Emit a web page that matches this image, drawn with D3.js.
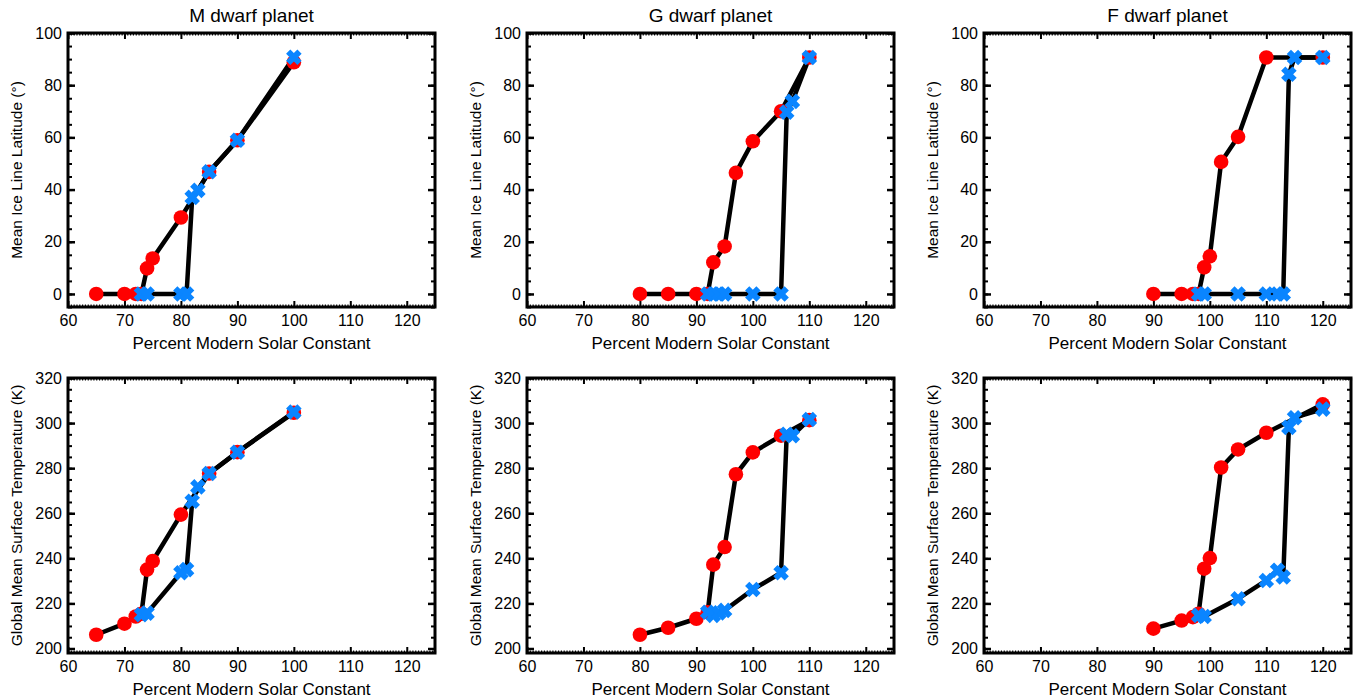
<!DOCTYPE html>
<html>
<head>
<meta charset="utf-8">
<script src="https://cdn.jsdelivr.net/npm/d3@7"></script>
<style>
  body { margin: 0; background: #fff; }
  text { font-family: "Liberation Sans", Arial, Helvetica, sans-serif; fill: #000; }
</style>
</head>
<body>
<svg id="chart" width="1357" height="700"></svg>
<script>
// solar constant (% modern) for the warming (red) and cooling (blue) runs
var mRedX = [65, 70, 72, 73, 74, 75, 80, 85, 90, 100],
    mRedIce = [0, 0, 0, 0, 9.8, 13.6, 29.3, 46.8, 58.9, 88.8],
    mRedTemp = [206.1, 211.0, 214.2, 215.4, 235.0, 238.8, 259.4, 277.6, 287.1, 304.6],
    mBlueX = [73, 74, 80, 81, 82, 83, 85, 90, 100],
    mBlueIce = [0, 0, 0, 0, 37.0, 39.7, 46.8, 58.9, 90.7],
    mBlueTemp = [215.0, 215.7, 233.6, 235.0, 265.3, 271.7, 277.6, 287.1, 304.9];

var gRedX = [80, 85, 90, 92, 93, 95, 97, 100, 105, 110],
    gRedIce = [0, 0, 0, 0, 12.1, 18.2, 46.4, 58.5, 70.0, 90.6],
    gRedTemp = [206.1, 209.2, 213.2, 216.1, 237.2, 245.0, 277.3, 287.0, 294.4, 301.3],
    gBlueX = [92, 93, 94, 95, 100, 105, 106, 107, 110],
    gBlueIce = [0, 0, 0, 0, 0, 0, 69.6, 73.8, 90.6],
    gBlueTemp = [216.1, 214.7, 215.8, 216.9, 226.2, 233.6, 295.0, 294.4, 301.6];

var fRedX = [90, 95, 97, 98, 99, 100, 102, 105, 110, 120],
    fRedIce = [0, 0, 0, 0, 10.2, 14.4, 50.6, 60.2, 90.6, 90.6],
    fRedTemp = [208.8, 212.4, 213.9, 215.4, 235.4, 240.1, 280.3, 288.3, 295.7, 308.3],
    fBlueX = [98, 99, 105, 110, 112, 113, 114, 115, 120],
    fBlueIce = [0, 0, 0, 0, 0, 0, 84.2, 90.6, 90.6],
    fBlueTemp = [214.7, 214.2, 222.1, 230.2, 234.7, 231.7, 298.1, 302.4, 306.2];

var titles = ['M dwarf planet', 'G dwarf planet', 'F dwarf planet'],
    xTicks = [60, 70, 80, 90, 100, 110, 120],
    iceTicks = [0, 20, 40, 60, 80, 100],
    tempTicks = [200, 220, 240, 260, 280, 300, 320],
    xLabel = 'Percent Modern Solar Constant',
    iceLabel = 'Mean Ice Line Latitude (\u00B0)',
    tempLabel = 'Global Mean Surface Temperature (K)';

var RED = '#ff0000',
    BLUE = '#0a85ff';

var svg = d3.select('#chart'),
    lefts = [68, 527, 984],
    panelW = 367,
    rows = [
        {top: 33, h: 274, dom: [-5, 100], ticks: iceTicks, minor: d3.range(-5, 101, 5), label: iceLabel, key: 'ice'},
        {top: 378, h: 275, dom: [198, 320], ticks: tempTicks, minor: d3.range(200, 321, 5), label: tempLabel, key: 'temp'}
    ],
    panels = [
        {redX: mRedX, blueX: mBlueX, ice: [mRedIce, mBlueIce], temp: [mRedTemp, mBlueTemp]},
        {redX: gRedX, blueX: gBlueX, ice: [gRedIce, gBlueIce], temp: [gRedTemp, gBlueTemp]},
        {redX: fRedX, blueX: fBlueX, ice: [fRedIce, fBlueIce], temp: [fRedTemp, fBlueTemp]}
    ];

// filled X marker
var crossPath = (function () {
    var a = 8, w = 3, pts = [], k;
    // build a rotated plus with arm half-width w and reach a
    var base = [[-w, -a], [w, -a], [w, -w], [a, -w], [a, w], [w, w], [w, a], [-w, a], [-w, w], [-a, w], [-a, -w], [-w, -w]];
    for (k = 0; k < base.length; k += 1) {
        var c = Math.SQRT1_2, p = base[k];
        pts.push([(p[0] - p[1]) * c, (p[0] + p[1]) * c]);
    }
    return 'M' + pts.map(function (p) { return p[0].toFixed(2) + ',' + p[1].toFixed(2); }).join('L') + 'Z';
}());

function styleTicks(sel, width) {
    sel.select('.domain').remove();
    sel.selectAll('.tick line').attr('stroke', '#000').attr('stroke-width', width);
    sel.selectAll('.tick text').style('font-size', '16px').attr('fill', '#000');
}

function drawPanel(col, row) {
    var p = panels[col],
        left = lefts[col],
        g = svg.append('g').attr('transform', 'translate(' + left + ',' + row.top + ')'),
        x = d3.scaleLinear().domain([60, 125]).range([0, panelW]),
        y = d3.scaleLinear().domain(row.dom).range([row.h, 0]),
        minorX = d3.range(60, 125.01, 0.5),
        line = d3.line().x(function (d) { return x(d[0]); }).y(function (d) { return y(d[1]); }),
        redPts = d3.zip(p.redX, p[row.key][0]),
        bluePts = d3.zip(p.blueX, p[row.key][1]);

    // minor ticks
    g.append('g').attr('transform', 'translate(0,' + row.h + ')')
        .call(d3.axisBottom(x).tickValues(minorX).tickSize(-2.5).tickFormat(''))
        .call(styleTicks, 1.2);
    g.append('g').call(d3.axisTop(x).tickValues(minorX).tickSize(-2.5).tickFormat(''))
        .call(styleTicks, 1.2);
    g.append('g').call(d3.axisLeft(y).tickValues(row.minor).tickSize(-4).tickFormat(''))
        .call(styleTicks, 2);
    g.append('g').attr('transform', 'translate(' + panelW + ',0)')
        .call(d3.axisRight(y).tickValues(row.minor).tickSize(-4).tickFormat(''))
        .call(styleTicks, 2);

    // major ticks
    g.append('g').attr('transform', 'translate(0,' + row.h + ')')
        .call(d3.axisBottom(x).tickValues(xTicks).tickSize(-6).tickPadding(8).tickFormat(d3.format('d')))
        .call(styleTicks, 2);
    g.append('g').call(d3.axisTop(x).tickValues(xTicks).tickSize(-6).tickFormat(''))
        .call(styleTicks, 2);
    g.append('g').call(d3.axisLeft(y).tickValues(row.ticks).tickSize(-7).tickPadding(6).tickFormat(d3.format('d')))
        .call(styleTicks, 2.5);
    g.append('g').attr('transform', 'translate(' + panelW + ',0)')
        .call(d3.axisRight(y).tickValues(row.ticks).tickSize(-7).tickFormat(''))
        .call(styleTicks, 2.5);

    // frame
    g.append('rect').attr('width', panelW).attr('height', row.h)
        .attr('fill', 'none').attr('stroke', '#000').attr('stroke-width', 3);

    // lines then markers
    [redPts, bluePts].forEach(function (pts) {
        g.append('path').datum(pts).attr('d', line)
            .attr('fill', 'none').attr('stroke', '#000')
            .attr('stroke-width', 4.5).attr('stroke-linejoin', 'round');
    });
    g.selectAll('circle.red').data(redPts).enter().append('circle')
        .attr('class', 'red')
        .attr('cx', function (d) { return x(d[0]); })
        .attr('cy', function (d) { return y(d[1]); })
        .attr('r', 7.3).attr('fill', RED);
    g.selectAll('path.blue').data(bluePts).enter().append('path')
        .attr('class', 'blue')
        .attr('d', crossPath)
        .attr('transform', function (d) { return 'translate(' + x(d[0]) + ',' + y(d[1]) + ')'; })
        .attr('fill', BLUE);

    // labels
    g.append('text').attr('x', panelW / 2).attr('y', row.h + 42)
        .attr('text-anchor', 'middle').style('font-size', '17px').text(xLabel);
    g.append('text')
        .attr('transform', 'translate(-46,' + (row.h / 2) + ') rotate(-90)')
        .attr('text-anchor', 'middle').style('font-size', '15.5px').text(row.label);
    if (row.key === 'ice') {
        g.append('text').attr('x', panelW / 2).attr('y', -11)
            .attr('text-anchor', 'middle').style('font-size', '19px').text(titles[col]);
    }
}

rows.forEach(function (row) {
    [0, 1, 2].forEach(function (col) {
        drawPanel(col, row);
    });
});
</script>
</body>
</html>
